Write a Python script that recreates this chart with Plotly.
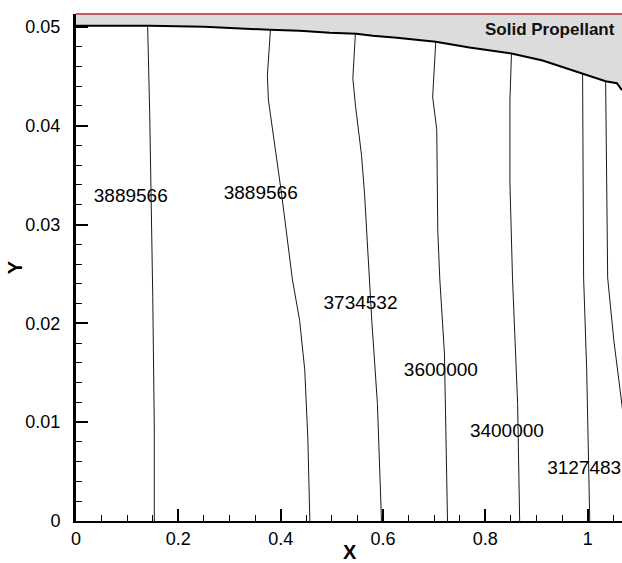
import plotly.graph_objects as go

# ---- data ----
X_RANGE = [0.0, 1.067]
Y_RANGE = [0.0, 0.0513]

# propellant surface (upper boundary of the flow domain)
surf_x = [0.000, 0.144, 0.251, 0.320, 0.378, 0.437, 0.496, 0.548, 0.580, 0.627,
          0.703, 0.769, 0.851, 0.912, 0.990, 1.035, 1.057, 1.067]
surf_y = [0.0501, 0.0501, 0.0500, 0.0498, 0.0497, 0.0496, 0.0494, 0.0493, 0.0491, 0.0489,
          0.0485, 0.0479, 0.0473, 0.0466, 0.0453, 0.0445, 0.0443, 0.0436]

# isobars (x, y)
iso_A_x = [0.140, 0.144, 0.150, 0.153, 0.153]
iso_A_y = [0.0501, 0.0413, 0.0227, 0.0095, 0.0]
iso_B_x = [0.380, 0.374, 0.376, 0.392, 0.402, 0.423, 0.437, 0.447, 0.453, 0.457]
iso_B_y = [0.0497, 0.0451, 0.0426, 0.0370, 0.0330, 0.0244, 0.0203, 0.0153, 0.0085, 0.0]
iso_C_x = [0.546, 0.541, 0.546, 0.558, 0.564, 0.572, 0.578, 0.589, 0.597]
iso_C_y = [0.0493, 0.0448, 0.0421, 0.0370, 0.0330, 0.0254, 0.0203, 0.0119, 0.0]
iso_D_x = [0.703, 0.697, 0.705, 0.707, 0.711, 0.720, 0.726]
iso_D_y = [0.0485, 0.0429, 0.0396, 0.0294, 0.0244, 0.0170, 0.0]
iso_E_x = [0.851, 0.848, 0.848, 0.853, 0.863, 0.867]
iso_E_y = [0.0473, 0.0426, 0.0342, 0.0246, 0.0119, 0.0]
iso_F_x = [0.990, 0.992, 0.998, 1.004]
iso_F_y = [0.0453, 0.0246, 0.0153, 0.0]
iso_G_x = [1.035, 1.037, 1.039, 1.051, 1.067, 1.090]
iso_G_y = [0.0445, 0.0294, 0.0246, 0.0183, 0.0117, 0.0]

isobars = [(iso_A_x, iso_A_y), (iso_B_x, iso_B_y), (iso_C_x, iso_C_y), (iso_D_x, iso_D_y),
           (iso_E_x, iso_E_y), (iso_F_x, iso_F_y), (iso_G_x, iso_G_y)]

label_text = ["3889566", "3889566", "3734532", "3600000", "3400000", "3127483"]
label_x = [0.107, 0.361, 0.556, 0.713, 0.842, 0.993]
label_y = [0.0328, 0.0331, 0.0219, 0.0152, 0.0090, 0.0052]

region_text = "Solid Propellant"
region_x = 0.926
region_y = 0.0497

x_title = "X"
y_title = "Y"

FONT = "Liberation Sans, Arial, sans-serif"

fig = go.Figure()

# grey propellant region above the surface
fill_x = surf_x + [X_RANGE[1], X_RANGE[0]]
fill_y = surf_y + [Y_RANGE[1], Y_RANGE[1]]
fig.add_trace(go.Scatter(x=fill_x, y=fill_y, mode="lines", fill="toself",
                         fillcolor="#dcdcdc", line=dict(width=0), hoverinfo="skip",
                         showlegend=False))
fig.add_trace(go.Scatter(x=surf_x, y=surf_y, mode="lines",
                         line=dict(color="black", width=2), showlegend=False))

for ix, iy in isobars:
    fig.add_trace(go.Scatter(x=ix, y=iy, mode="lines",
                             line=dict(color="#1a1a1a", width=1), showlegend=False))

fig.add_trace(go.Scatter(x=label_x, y=label_y, mode="text", text=label_text,
                         textposition="middle center",
                         textfont=dict(family=FONT, size=19, color="black"),
                         showlegend=False))

fig.add_annotation(x=region_x, y=region_y, text="<b>" + region_text + "</b>",
                   showarrow=False, xanchor="center", yanchor="middle",
                   font=dict(family=FONT, size=17, color="#111111"))

# axis titles
fig.add_annotation(xref="paper", yref="paper", x=0.502, y=-0.061,
                   text="<b>" + x_title + "</b>", showarrow=False,
                   xanchor="center", yanchor="middle",
                   font=dict(family=FONT, size=20, color="black"))
fig.add_annotation(xref="paper", yref="paper", x=-0.112, y=0.5,
                   text="<b>" + y_title + "</b>", showarrow=False, textangle=-90,
                   xanchor="center", yanchor="middle",
                   font=dict(family=FONT, size=20, color="black"))

# dark-red frame line on top
fig.add_shape(type="line", xref="paper", yref="paper", x0=0, x1=1, y0=1, y1=1,
              line=dict(color="#b03030", width=1.5))

fig.update_xaxes(range=X_RANGE, showgrid=False, zeroline=False,
                 showline=True, linecolor="black", linewidth=2,
                 ticks="inside", ticklen=12, tickwidth=2, tickcolor="black",
                 dtick=0.2, tick0=0,
                 minor=dict(ticks="inside", ticklen=6, tickwidth=1.2,
                            tickcolor="black", dtick=0.05, showgrid=False),
                 tickfont=dict(family=FONT, size=18, color="black"),
                 ticklabelstandoff=0)
fig.update_yaxes(range=Y_RANGE, showgrid=False, zeroline=False,
                 showline=True, linecolor="black", linewidth=3,
                 ticks="inside", ticklen=12, tickwidth=2, tickcolor="black",
                 dtick=0.01, tick0=0,
                 minor=dict(ticks="inside", ticklen=6, tickwidth=1.2,
                            tickcolor="black", dtick=0.002, showgrid=False),
                 tickfont=dict(family=FONT, size=18, color="black"),
                 ticklabelstandoff=9)

fig.update_layout(width=622, height=563,
                  margin=dict(l=76, r=0, t=14, b=42, autoexpand=False),
                  plot_bgcolor="white", paper_bgcolor="white")

fig.write_html("out.html")
